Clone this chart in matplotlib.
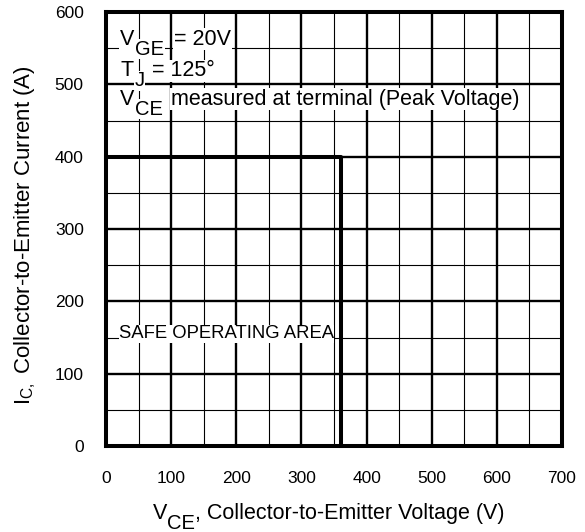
import matplotlib
matplotlib.use("Agg")
import matplotlib.pyplot as plt

# SOA boundary (V, A)
soa_v = [0, 360, 360]
soa_i = [400, 400, 0]

x_ticks = [0, 100, 200, 300, 400, 500, 600, 700]
y_ticks = [0, 100, 200, 300, 400, 500, 600]
x_minor = [50, 150, 250, 350, 450, 550, 650]
y_minor = [50, 150, 250, 350, 450, 550]

plt.rcParams['font.family'] = ['Liberation Sans', 'DejaVu Sans']
plt.rcParams['mathtext.fontset'] = 'custom'
plt.rcParams['mathtext.rm'] = 'Liberation Sans'
plt.rcParams['mathtext.it'] = 'Liberation Sans'

W, H = 585, 532
fig = plt.figure(figsize=(W / 100, H / 100), dpi=100)
ax = fig.add_axes([106 / W, 1 - 446 / H, 456 / W, 434 / H])

ax.set_xlim(0, 700)
ax.set_ylim(0, 600)

# grid: thin at the 50s, heavier at the 100s
for v in x_minor:
    ax.axvline(v, color='black', lw=0.8, zorder=1)
for v in y_minor:
    ax.axhline(v, color='black', lw=0.8, zorder=1)
for v in x_ticks[1:-1]:
    ax.axvline(v, color='black', lw=1.7, zorder=1)
for v in y_ticks[1:-1]:
    ax.axhline(v, color='black', lw=1.7, zorder=1)

ax.plot(soa_v, soa_i, color='black', lw=2.9, zorder=3, clip_on=False)

for s in ax.spines.values():
    s.set_linewidth(2.9)

ax.set_xticks(x_ticks)
ax.set_yticks(y_ticks)
ax.tick_params(length=0, labelsize=12.5)
ax.tick_params(axis='x', pad=18)
ax.tick_params(axis='y', pad=16)


def chain(first, pieces, rot=0, bbox=None):
    # pieces: (text, shift down in px, gap before in px, size)
    prev = first
    prev_shift = 0
    for s, shift, gap, sz in pieces:
        d = shift - prev_shift
        prev = ax.annotate(s, xy=(1, 0), xycoords=prev, xytext=(gap, -d),
                           textcoords='offset pixels', ha='left', va='bottom',
                           fontsize=sz, bbox=bbox, zorder=4, annotation_clip=False)
        prev_shift = shift
    return prev


bb = dict(facecolor='white', edgecolor='none', pad=0.6)

# text block in upper left
t1 = ax.text(22, 555, 'V', fontsize=15.5, ha='left', va='baseline', bbox=bb, zorder=4)
chain(t1, [('GE', 9, 0, 14.5), ('= 20V', 0, 10, 15.5)], bbox=bb)
t2 = ax.text(22, 511, 'T', fontsize=15.5, ha='left', va='baseline', bbox=bb, zorder=4)
chain(t2, [('J', 9, 1, 14.5), ('= 125°', 0, 7, 15.5)], bbox=bb)
t3 = ax.text(22, 472, 'V', fontsize=15.5, ha='left', va='baseline', bbox=bb, zorder=4)
chain(t3, [('CE', 9, 0, 14.5), ('measured at terminal (Peak Voltage)', 0, 8, 15.5)], bbox=bb)

ax.text(185, 155, 'SAFE OPERATING AREA', fontsize=13.3, va='center', ha='center',
        bbox=dict(facecolor='white', edgecolor='none', pad=0.3), zorder=4)

# x axis title with full-size subscript
xl = fig.text(153 / W, 13 / H, 'V', fontsize=15.5, ha='left', va='baseline')
chain(xl, [('CE', 9, 0, 14.5), (', Collector-to-Emitter Voltage (V)', 0, 0, 15.5)])

# y axis title
fig.text(12 / W, 127 / H, r'I$_{\mathregular{C,}}$ Collector-to-Emitter Current (A)',
         fontsize=16, rotation=90, ha='left', va='bottom')

fig.savefig('out.png', dpi=100)
